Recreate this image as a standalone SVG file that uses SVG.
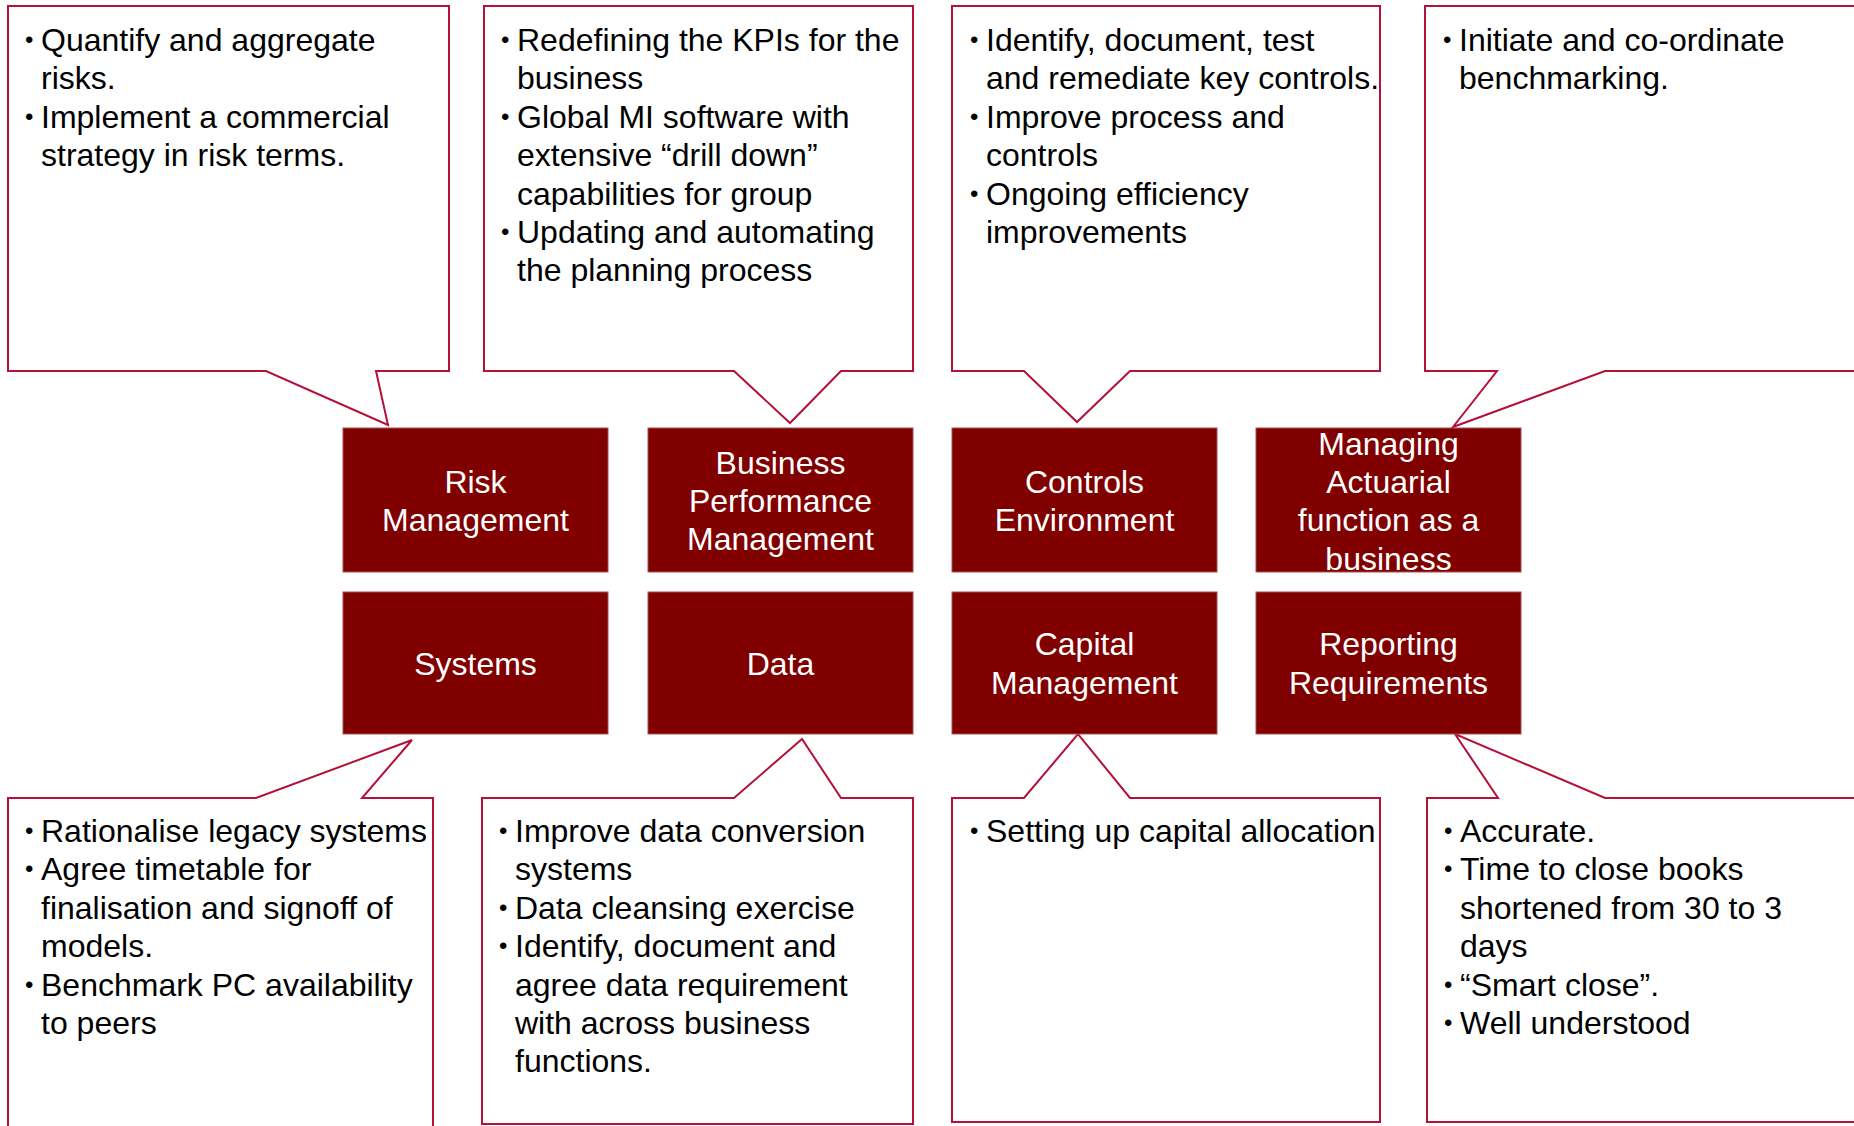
<svg xmlns="http://www.w3.org/2000/svg" width="1854" height="1126" viewBox="0 0 1854 1126">
  <style>
    .callout { fill: #ffffff; stroke: #b3103a; stroke-width: 2; stroke-linejoin: miter; }
    .tile { fill: #800000; stroke: #a85050; stroke-width: 1; }
    .note { font-family: "Liberation Sans", Arial, sans-serif; font-size: 32px; fill: #000000; }
    .dot { font-size: 24px; }
    .label { font-family: "Liberation Sans", Arial, sans-serif; font-size: 32px; fill: #ffffff; text-anchor: middle; }
  </style>
  <rect width="1854" height="1126" fill="#ffffff"/>

  <!-- Callouts (speech bubbles pointing at their tiles) -->
  <g id="callouts">
    <g id="note-risk">
      <path class="callout" d="M8,6 H449 V371 H376 L388,425 L266,371 H8 Z"/>
      <text class="note">
        <tspan class="dot" x="25" y="48">•</tspan><tspan x="41" y="51">Quantify and aggregate</tspan>
        <tspan x="41" y="89.4">risks.</tspan>
        <tspan class="dot" x="25" y="124.8">•</tspan><tspan x="41" y="127.8">Implement a commercial</tspan>
        <tspan x="41" y="166.2">strategy in risk terms.</tspan>
      </text>
    </g>
    <g id="note-performance">
      <path class="callout" d="M484,6 H913 V371 H841 L790,423 L734,371 H484 Z"/>
      <text class="note">
        <tspan class="dot" x="501" y="48">•</tspan><tspan x="517" y="51">Redefining the KPIs for the</tspan>
        <tspan x="517" y="89.4">business</tspan>
        <tspan class="dot" x="501" y="124.8">•</tspan><tspan x="517" y="127.8">Global MI software with</tspan>
        <tspan x="517" y="166.2">extensive “drill down”</tspan>
        <tspan x="517" y="204.6">capabilities for group</tspan>
        <tspan class="dot" x="501" y="240">•</tspan><tspan x="517" y="243">Updating and automating</tspan>
        <tspan x="517" y="281.4">the planning process</tspan>
      </text>
    </g>
    <g id="note-controls">
      <path class="callout" d="M952,6 H1380 V371 H1130 L1077,422 L1024,371 H952 Z"/>
      <text class="note">
        <tspan class="dot" x="970" y="48">•</tspan><tspan x="986" y="51">Identify, document, test</tspan>
        <tspan x="986" y="89.4">and remediate key controls.</tspan>
        <tspan class="dot" x="970" y="124.8">•</tspan><tspan x="986" y="127.8">Improve process and</tspan>
        <tspan x="986" y="166.2">controls</tspan>
        <tspan class="dot" x="970" y="201.6">•</tspan><tspan x="986" y="204.6">Ongoing efficiency</tspan>
        <tspan x="986" y="243">improvements</tspan>
      </text>
    </g>
    <g id="note-actuarial">
      <path class="callout" d="M1425,6 H1870 V371 H1605 L1453,427 L1497,371 H1425 Z"/>
      <text class="note">
        <tspan class="dot" x="1443" y="48">•</tspan><tspan x="1459" y="51">Initiate and co-ordinate</tspan>
        <tspan x="1459" y="89.4">benchmarking.</tspan>
      </text>
    </g>
    <g id="note-systems">
      <path class="callout" d="M8,1140 V798 H256 L412,740 L362,798 H433 V1140"/>
      <text class="note">
        <tspan class="dot" x="25" y="839">•</tspan><tspan x="41" y="842">Rationalise legacy systems</tspan>
        <tspan class="dot" x="25" y="877.4">•</tspan><tspan x="41" y="880.4">Agree timetable for</tspan>
        <tspan x="41" y="918.8">finalisation and signoff of</tspan>
        <tspan x="41" y="957.2">models.</tspan>
        <tspan class="dot" x="25" y="992.6">•</tspan><tspan x="41" y="995.6">Benchmark PC availability</tspan>
        <tspan x="41" y="1034">to peers</tspan>
      </text>
    </g>
    <g id="note-data">
      <path class="callout" d="M482,798 H734 L802,739 L841,798 H913 V1124 H482 Z"/>
      <text class="note">
        <tspan class="dot" x="499" y="839">•</tspan><tspan x="515" y="842">Improve data conversion</tspan>
        <tspan x="515" y="880.4">systems</tspan>
        <tspan class="dot" x="499" y="915.8">•</tspan><tspan x="515" y="918.8">Data cleansing exercise</tspan>
        <tspan class="dot" x="499" y="954.2">•</tspan><tspan x="515" y="957.2">Identify, document and</tspan>
        <tspan x="515" y="995.6">agree data requirement</tspan>
        <tspan x="515" y="1034">with across business</tspan>
        <tspan x="515" y="1072.4">functions.</tspan>
      </text>
    </g>
    <g id="note-capital">
      <path class="callout" d="M952,798 H1024 L1078,734 L1130,798 H1380 V1122 H952 Z"/>
      <text class="note">
        <tspan class="dot" x="970" y="839">•</tspan><tspan x="986" y="842">Setting up capital allocation</tspan>
      </text>
    </g>
    <g id="note-reporting">
      <path class="callout" d="M1427,798 H1498 L1455,734 L1605,798 H1870 V1122 H1427 Z"/>
      <text class="note">
        <tspan class="dot" x="1444" y="839">•</tspan><tspan x="1460" y="842">Accurate.</tspan>
        <tspan class="dot" x="1444" y="877.4">•</tspan><tspan x="1460" y="880.4">Time to close books</tspan>
        <tspan x="1460" y="918.8">shortened from 30 to 3</tspan>
        <tspan x="1460" y="957.2">days</tspan>
        <tspan class="dot" x="1444" y="992.6">•</tspan><tspan x="1460" y="995.6">“Smart close”.</tspan>
        <tspan class="dot" x="1444" y="1031">•</tspan><tspan x="1460" y="1034">Well understood</tspan>
      </text>
    </g>
  </g>

  <!-- Central tiles -->
  <g id="tiles">
    <g id="risk-management">
      <rect class="tile" x="343" y="428" width="265" height="144"/>
      <text class="label"><tspan x="475.5" y="493">Risk</tspan><tspan x="475.5" y="531.4">Management</tspan></text>
    </g>
    <g id="business-performance-management">
      <rect class="tile" x="648" y="428" width="265" height="144"/>
      <text class="label"><tspan x="780.5" y="473.5">Business</tspan><tspan x="780.5" y="511.9">Performance</tspan><tspan x="780.5" y="550.3">Management</tspan></text>
    </g>
    <g id="controls-environment">
      <rect class="tile" x="952" y="428" width="265" height="144"/>
      <text class="label"><tspan x="1084.5" y="493">Controls</tspan><tspan x="1084.5" y="531.4">Environment</tspan></text>
    </g>
    <g id="managing-actuarial">
      <rect class="tile" x="1256" y="428" width="265" height="144"/>
      <text class="label"><tspan x="1388.5" y="454.6">Managing</tspan><tspan x="1388.5" y="493">Actuarial</tspan><tspan x="1388.5" y="531.4">function as a</tspan><tspan x="1388.5" y="569.8">business</tspan></text>
    </g>
    <g id="systems">
      <rect class="tile" x="343" y="592" width="265" height="142"/>
      <text class="label"><tspan x="475.5" y="674.5">Systems</tspan></text>
    </g>
    <g id="data">
      <rect class="tile" x="648" y="592" width="265" height="142"/>
      <text class="label"><tspan x="780.5" y="674.5">Data</tspan></text>
    </g>
    <g id="capital-management">
      <rect class="tile" x="952" y="592" width="265" height="142"/>
      <text class="label"><tspan x="1084.5" y="655.3">Capital</tspan><tspan x="1084.5" y="693.7">Management</tspan></text>
    </g>
    <g id="reporting-requirements">
      <rect class="tile" x="1256" y="592" width="265" height="142"/>
      <text class="label"><tspan x="1388.5" y="655.3">Reporting</tspan><tspan x="1388.5" y="693.7">Requirements</tspan></text>
    </g>
  </g>
</svg>
